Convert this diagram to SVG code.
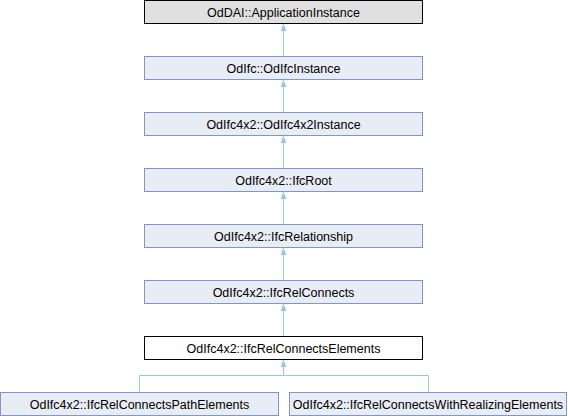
<svg xmlns="http://www.w3.org/2000/svg" width="568" height="416" viewBox="0 0 568 416">
<style>
.n rect{fill:#E8ECF5;stroke:#7E97C8;stroke-width:1}
.n text{font-family:"Liberation Sans",Arial,sans-serif;font-size:12.5px;fill:#000;text-anchor:middle}
.e{fill:none;stroke:#9CC5DE;stroke-width:1}
</style>
<defs>
<marker id="a" markerWidth="7" markerHeight="6" refX="7" refY="3" orient="auto" markerUnits="userSpaceOnUse" viewBox="0 0 7 6">
<path d="M0,0 L7,3 L0,6 Z" fill="#9CC5DE"/>
</marker>
</defs>
<g id="edges">
<path class="e" d="M283.5,56 V24" marker-end="url(#a)"/>
<path class="e" d="M283.5,112 V80" marker-end="url(#a)"/>
<path class="e" d="M283.5,168 V136" marker-end="url(#a)"/>
<path class="e" d="M283.5,224 V192" marker-end="url(#a)"/>
<path class="e" d="M283.5,280 V248" marker-end="url(#a)"/>
<path class="e" d="M283.5,336 V304" marker-end="url(#a)"/>
<path class="e" d="M283.5,375.5 V360" marker-end="url(#a)"/>
<path class="e" d="M139.5,392.5 V375.5 H428.5 V392.5"/>
</g>
<g id="n1" class="n"><rect x="144.5" y="0.5" width="278" height="23" style="fill:#E0E0E0;stroke:#000"/><text x="283.5" y="16.5">OdDAI::ApplicationInstance</text></g>
<g id="n2" class="n"><rect x="144.5" y="56.5" width="278" height="23"/><text x="283.5" y="72.5">OdIfc::OdIfcInstance</text></g>
<g id="n3" class="n"><rect x="144.5" y="112.5" width="278" height="23"/><text x="283.5" y="128.5">OdIfc4x2::OdIfc4x2Instance</text></g>
<g id="n4" class="n"><rect x="144.5" y="168.5" width="278" height="23"/><text x="283.5" y="184.5">OdIfc4x2::IfcRoot</text></g>
<g id="n5" class="n"><rect x="144.5" y="224.5" width="278" height="23"/><text x="283.5" y="240.5">OdIfc4x2::IfcRelationship</text></g>
<g id="n6" class="n"><rect x="144.5" y="280.5" width="278" height="23"/><text x="283.5" y="296.5">OdIfc4x2::IfcRelConnects</text></g>
<g id="n7" class="n"><rect x="144.5" y="336.5" width="278" height="23" style="fill:#FFFFFF;stroke:#000"/><text x="283.5" y="352.5">OdIfc4x2::IfcRelConnectsElements</text></g>
<g id="n8" class="n"><rect x="0.5" y="392.5" width="278" height="23"/><text x="139.5" y="408.5">OdIfc4x2::IfcRelConnectsPathElements</text></g>
<g id="n9" class="n"><rect x="289.5" y="392.5" width="277" height="23"/><text x="428" y="408.5">OdIfc4x2::IfcRelConnectsWithRealizingElements</text></g>
</svg>
